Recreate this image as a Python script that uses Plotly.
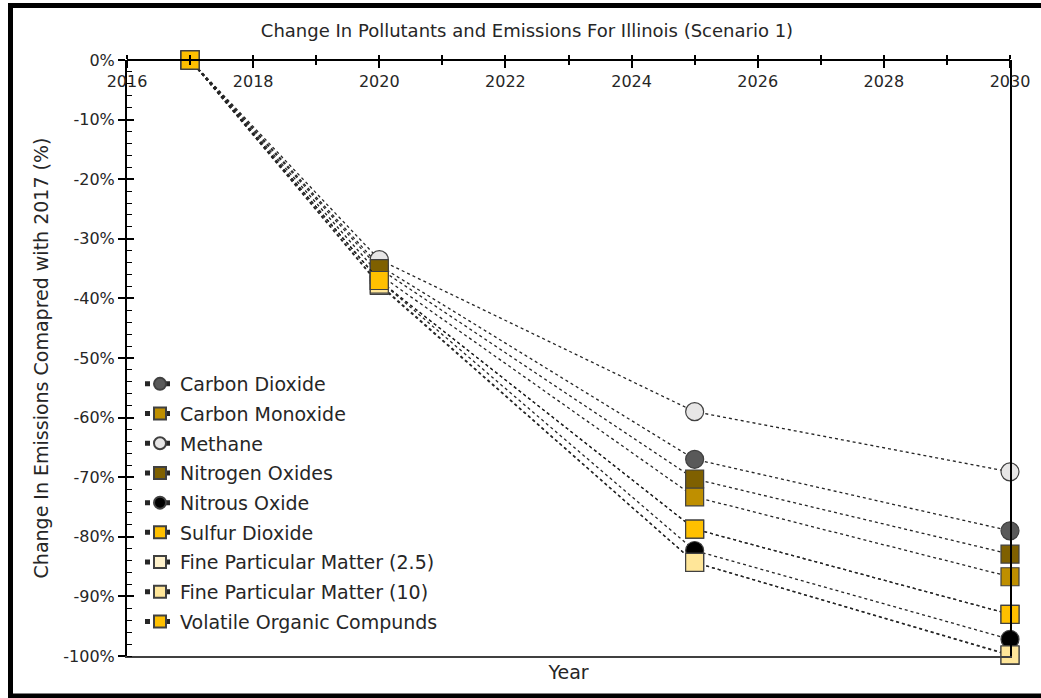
import plotly.graph_objects as go

years = [2017, 2020, 2025, 2030]
series_names = [
    "Carbon Dioxide", "Carbon Monoxide", "Methane", "Nitrogen Oxides",
    "Nitrous Oxide", "Sulfur Dioxide", "Fine Particular Matter (2.5)",
    "Fine Particular Matter (10)", "Volatile Organic Compunds",
]
carbon_dioxide = [0, -34.5, -67.0, -79.0]
carbon_monoxide = [0, -36.0, -73.3, -86.7]
methane = [0, -33.5, -59.0, -69.1]
nitrogen_oxides = [0, -35.0, -70.3, -82.9]
nitrous_oxide = [0, -37.0, -82.3, -97.2]
sulfur_dioxide = [0, -37.0, -78.7, -93.0]
fpm_25 = [0, -37.8, -84.3, -99.9]
fpm_10 = [0, -37.6, -84.3, -99.8]
voc = [0, -37.0, -78.7, -93.0]
all_values = [carbon_dioxide, carbon_monoxide, methane, nitrogen_oxides,
              nitrous_oxide, sulfur_dioxide, fpm_25, fpm_10, voc]

x_tickvals = [2016, 2018, 2020, 2022, 2024, 2026, 2028, 2030]
x_ticktext = ["2016", "2018", "2020", "2022", "2024", "2026", "2028", "2030"]
y_tickvals = [0, -10, -20, -30, -40, -50, -60, -70, -80, -90, -100]
y_ticktext = ["0%", "-10%", "-20%", "-30%", "-40%", "-50%", "-60%", "-70%", "-80%", "-90%", "-100%"]

colors = ["#595959", "#BF8F00", "#E7E6E6", "#7F6000", "#000000",
          "#FFC000", "#FFF2CC", "#FFE699", "#FFC000"]
symbols = ["circle", "square", "circle", "square", "circle",
           "square", "square", "square", "square"]

FONT = "DejaVu Sans"
TXT = "#262626"

fig = go.Figure()
for i, (name, vals) in enumerate(zip(series_names, all_values)):
    fig.add_trace(go.Scatter(
        x=years, y=vals, name=name, mode="lines+markers",
        legendgroup=name, cliponaxis=False,
        line=dict(color="#262626", width=1.3, dash="dot"),
        marker=dict(symbol=symbols[i], size=18, color=colors[i],
                    line=dict(color="#404040", width=1.2)),
    ))

W, H = 1041, 698
L, R, T, B = 127, 31, 60, 42
pw, ph = W - L - R, H - T - B


def px(x):
    return (x - L) / pw


def py(y):
    return (H - B - y) / ph


fig.update_layout(
    width=W, height=H,
    margin=dict(l=L, r=R, t=T, b=B),
    paper_bgcolor="white", plot_bgcolor="white",
    font=dict(family=FONT, size=16, color=TXT),
    title=dict(text="Change In Pollutants and Emissions For Illinois (Scenario 1)",
               x=527 / W, xanchor="center", xref="container",
               y=1 - 31 / H, yanchor="middle", yref="container",
               font=dict(size=18, color=TXT)),
    showlegend=True,
    legend=dict(x=px(140), y=py(365), xanchor="left", yanchor="top",
                bgcolor="rgba(0,0,0,0)", tracegroupgap=2,
                traceorder="grouped", font=dict(size=19, color=TXT),
                itemsizing="constant", itemwidth=30),
    xaxis=dict(range=[2016, 2030], anchor="free", position=1, side="bottom",
               showline=True, linecolor="#000000", linewidth=2,
               tickvals=x_tickvals, ticktext=x_ticktext,
               ticks="outside", ticklen=7, tickwidth=1.5, tickcolor="#000000",
               minor=dict(ticks="outside", tickvals=list(range(2016, 2031)), ticklen=4,
                          tickwidth=1.5, tickcolor="#000000"),
               showgrid=False, zeroline=False,
               tickfont=dict(size=16, color=TXT)),
    xaxis2=dict(range=[2016, 2030], overlaying="x", anchor="y", side="top",
                showline=False, tickvals=x_tickvals, ticktext=["" for _ in x_tickvals],
                ticks="outside", ticklen=7, tickwidth=1.5, tickcolor="#000000",
                minor=dict(ticks="outside", tickvals=list(range(2016, 2031)), ticklen=4,
                           tickwidth=1.5, tickcolor="#000000"),
                showticklabels=False, showgrid=False, zeroline=False),
    xaxis3=dict(range=[2016, 2030], overlaying="x", anchor="y", side="bottom",
                showline=True, linecolor="#404040", linewidth=2,
                ticks="", showticklabels=False, showgrid=False, zeroline=False,
                title=dict(text="Year", standoff=9, font=dict(size=19, color=TXT))),
    yaxis=dict(range=[-100, 0], showline=True, linecolor="#000000", linewidth=2,
               mirror=True,
               tickvals=y_tickvals, ticktext=y_ticktext,
               ticks="outside", ticklen=7, tickwidth=1.5, tickcolor="#000000",
               minor=dict(ticks="inside", dtick=2, ticklen=5, tickwidth=1.2,
                          tickcolor="#000000"),
               showgrid=False, zeroline=False,
               tickfont=dict(size=16, color=TXT),
               title=dict(text="Change In Emissions Comapred with 2017 (%)", standoff=10,
                          font=dict(size=19, color=TXT))),
    yaxis2=dict(range=[-100, 0], overlaying="y", anchor="x3", side="left",
                tickvals=y_tickvals, ticktext=["" for _ in y_tickvals],
                ticks="inside", ticklen=7, tickwidth=1.5, tickcolor="#000000",
                showticklabels=False, showgrid=False, zeroline=False, showline=False),
    shapes=[dict(type="rect", xref="paper", yref="paper",
                 x0=px(10.5), x1=px(1046), y0=py(696), y1=py(5.5),
                 line=dict(color="#000000", width=5), fillcolor="rgba(0,0,0,0)",
                 layer="above")],
)

# invisible dummy traces to activate overlay axes
fig.add_trace(go.Scatter(x=[2016], y=[0], xaxis="x2", yaxis="y", mode="markers",
                         marker=dict(opacity=0), showlegend=False, hoverinfo="skip"))
fig.add_trace(go.Scatter(x=[2016], y=[0], xaxis="x3", yaxis="y2", mode="markers",
                         marker=dict(opacity=0), showlegend=False, hoverinfo="skip"))

fig.write_html("out.html")
